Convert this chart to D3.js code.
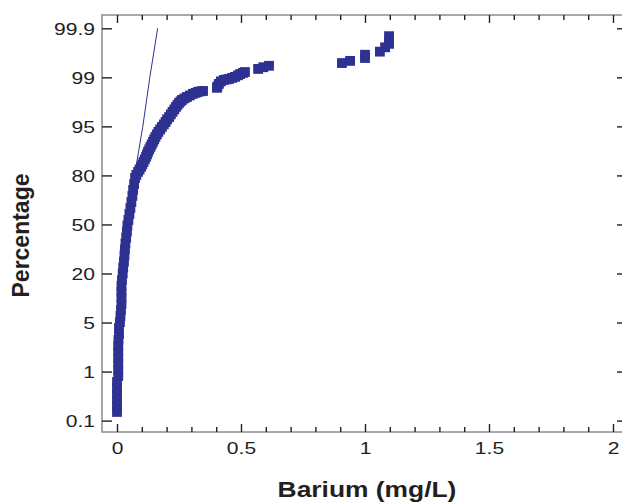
<!DOCTYPE html>
<html>
<head>
<meta charset="utf-8">
<script src="https://cdn.jsdelivr.net/npm/d3@7"></script>
<style>
  html, body { margin: 0; padding: 0; background: #fff; }
  svg { display: block; }
  text { font-family: "Liberation Sans", Arial, Helvetica, sans-serif; fill: #231f20; }
</style>
</head>
<body>
<svg id="chart" width="622" height="504"></svg>
<script>
// Barium concentrations (mg/L) and their cumulative percentages
const barium = [
  0.000, 0.000, 0.000, 0.000, 0.000, 0.000, 0.005, 0.005, 0.005, 0.005,
  0.005, 0.005, 0.006, 0.008, 0.008, 0.012, 0.014, 0.016, 0.018, 0.018,
  0.018, 0.018, 0.020, 0.023, 0.025, 0.028, 0.030, 0.032, 0.034, 0.037,
  0.040, 0.042, 0.046, 0.050, 0.054, 0.058, 0.062, 0.065, 0.069, 0.073,
  0.078, 0.085, 0.091, 0.097, 0.102, 0.107, 0.112, 0.117, 0.121, 0.125,
  0.130, 0.135, 0.140, 0.145, 0.150, 0.155, 0.161, 0.167, 0.174, 0.181,
  0.189, 0.196, 0.202, 0.210, 0.217, 0.224, 0.231, 0.238, 0.244, 0.250,
  0.256, 0.262, 0.272, 0.282, 0.294, 0.306, 0.317, 0.327, 0.337, 0.347,
  0.403, 0.405, 0.411, 0.419, 0.431, 0.442, 0.452, 0.464, 0.476, 0.488,
  0.497, 0.508, 0.516, 0.569, 0.590, 0.613,
  0.907, 0.940, 1.000, 1.000, 1.060, 1.081, 1.097, 1.097, 1.097
];
const percentage = [
  0.156, 0.21, 0.28, 0.37, 0.49, 0.64, 0.83, 1.06, 1.32, 1.63,
  2.00, 2.44, 2.96, 3.56, 4.27, 5.08, 6.2, 7.5, 8.98, 10.7,
  12.6, 14.8, 17.1, 20.0, 23.0, 26.2, 29.7, 33.4, 37.2, 41.1,
  45.2, 49.3, 53.1, 57.1, 61.1, 65.0, 68.8, 72.3, 75.6, 78.8,
  80.23, 81.6, 82.62, 83.7, 84.66, 85.6, 86.51, 87.4, 88.21, 89.0,
  89.75, 90.5, 91.14, 91.8, 92.38, 92.95, 93.49, 94.0, 94.47, 94.9,
  95.28, 95.6, 95.93, 96.2, 96.50, 96.76, 97.00, 97.23, 97.40, 97.56,
  97.68, 97.79, 97.90, 98.0, 98.10, 98.2, 98.26, 98.32, 98.35, 98.37,
  98.54, 98.61, 98.73, 98.84, 98.90, 98.92, 98.94, 98.98, 99.02, 99.08,
  99.13, 99.17, 99.20, 99.30, 99.35, 99.39,
  99.46, 99.51, 99.57, 99.63, 99.68, 99.74, 99.78, 99.82, 99.85
];

// Probability-axis ticks
const yTickPercent = [0.1, 1, 5, 20, 50, 80, 95, 99, 99.9];
const yTickLabels = ["0.1", "1", "5", "20", "50", "80", "95", "99", "99.9"];

// Value-axis ticks
const xMajorTicks = [0, 0.5, 1, 1.5, 2];
const xMinorTicks = [0.1, 0.2, 0.3, 0.4, 0.6, 0.7, 0.8, 0.9, 1.1, 1.2, 1.3, 1.4, 1.6, 1.7, 1.8, 1.9];
const xTickLabels = ["0", "0.5", "1", "1.5", "2"];

// Normal reference line (mean and standard deviation, mg/L)
const fitMean = 0.036;
const fitSd = 0.0414;
const fitPercent = [50, 80, 95, 99, 99.9];

// Inverse standard normal CDF (Acklam's rational approximation)
function probit(p) {
  const a = [-3.969683028665376e+01, 2.209460984245205e+02, -2.759285104469687e+02,
             1.383577518672690e+02, -3.066479806614716e+01, 2.506628277459239e+00];
  const b = [-5.447609879822406e+01, 1.615858368580409e+02, -1.556989798598866e+02,
             6.680131188771972e+01, -1.328068155288572e+01];
  const c = [-7.784894002430293e-03, -3.223964580411365e-01, -2.400758277161838e+00,
             -2.549732539343734e+00, 4.374664141464968e+00, 2.938163982698783e+00];
  const d = [7.784695709041462e-03, 3.224671290700398e-01, 2.445134137142996e+00,
             3.754408661907416e+00];
  const pl = 0.02425, ph = 1 - pl;
  let q, r;
  if (p < pl) {
    q = Math.sqrt(-2 * Math.log(p));
    return (((((c[0]*q+c[1])*q+c[2])*q+c[3])*q+c[4])*q+c[5]) / ((((d[0]*q+d[1])*q+d[2])*q+d[3])*q+1);
  }
  if (p <= ph) {
    q = p - 0.5; r = q * q;
    return (((((a[0]*r+a[1])*r+a[2])*r+a[3])*r+a[4])*r+a[5])*q / (((((b[0]*r+b[1])*r+b[2])*r+b[3])*r+b[4])*r+1);
  }
  q = Math.sqrt(-2 * Math.log(1 - p));
  return -(((((c[0]*q+c[1])*q+c[2])*q+c[3])*q+c[4])*q+c[5]) / ((((d[0]*q+d[1])*q+d[2])*q+d[3])*q+1);
}

// Layout
const W = 622, H = 504;
const plot = { left: 102, right: 627, top: 15, bottom: 432 };
const xRange = [117, 613];          // pixel span of 0 .. 2 mg/L
const yEnds = [420.6, 28.3];        // pixel span of 0.1 .. 99.9 %
const ink = "#231f20";
const frameColor = "#8c8c8c";
const markColor = "#2E3192";
const markSize = 9.8;
const labelStretch = 1.24;

const svg = d3.select("#chart");
svg.append("rect").attr("width", W).attr("height", H).attr("fill", "#fff");

const x = d3.scaleLinear().domain([0, 2]).range(xRange);

// Probability scale: tick percentages equally spaced, linear in z between them
const tickZ = yTickPercent.map(p => probit(p / 100));
const tickY = yTickPercent.map((_, i) => yEnds[0] + (yEnds[1] - yEnds[0]) * i / (yTickPercent.length - 1));
const yZ = d3.scaleLinear().domain(tickZ).range(tickY);
const y = p => yZ(probit(p / 100));

// Frame
svg.append("rect")
  .attr("x", plot.left).attr("y", plot.top)
  .attr("width", plot.right - plot.left).attr("height", plot.bottom - plot.top)
  .attr("fill", "none").attr("stroke", frameColor).attr("stroke-width", 1.5);

// Normal reference line
const fitLine = d3.line()
  .x(p => x(fitMean + fitSd * probit(p / 100)))
  .y(p => y(p));
svg.append("path")
  .datum(fitPercent)
  .attr("d", fitLine)
  .attr("fill", "none")
  .attr("stroke", markColor)
  .attr("stroke-width", 1);

// Observations
const pts = barium.map((v, i) => ({ v, p: percentage[i] }));
svg.append("g").selectAll("rect")
  .data(pts)
  .join("rect")
  .attr("x", d => x(d.v) - markSize / 2)
  .attr("y", d => y(d.p) - markSize / 2)
  .attr("width", markSize)
  .attr("height", markSize)
  .attr("fill", markColor);

// Axes (inward ticks on all sides)
function styleAxis(g) {
  g.select(".domain").remove();
  g.selectAll(".tick line").attr("stroke", ink).attr("stroke-width", 1.4);
}

// bottom
const xb = svg.append("g").attr("transform", `translate(0,${plot.bottom})`)
  .call(d3.axisBottom(x).tickValues(xMajorTicks).tickSize(-8)
        .tickFormat((d, i) => xTickLabels[i]))
  .call(styleAxis);
xb.selectAll(".tick text")
  .attr("y", 22).attr("dy", 0)
  .attr("font-size", 17)
  .attr("fill", ink)
  .attr("transform", `scale(${labelStretch},1)`);
svg.append("g").attr("transform", `translate(0,${plot.bottom})`)
  .call(d3.axisBottom(x).tickValues(xMinorTicks).tickSize(-5).tickFormat(""))
  .call(styleAxis);

// top
svg.append("g").attr("transform", `translate(0,${plot.top})`)
  .call(d3.axisTop(x).tickValues(xMajorTicks).tickSize(-8).tickFormat(""))
  .call(styleAxis);
svg.append("g").attr("transform", `translate(0,${plot.top})`)
  .call(d3.axisTop(x).tickValues(xMinorTicks).tickSize(-5).tickFormat(""))
  .call(styleAxis);

// left
const yl = svg.append("g").attr("transform", `translate(${plot.left},0)`)
  .call(d3.axisLeft(yZ).tickValues(tickZ).tickSize(-10)
        .tickFormat((d, i) => yTickLabels[i]))
  .call(styleAxis);
yl.selectAll(".tick text")
  .attr("x", -7 / labelStretch)
  .attr("dy", "0.35em")
  .attr("font-size", 17)
  .attr("fill", ink)
  .attr("text-anchor", "end")
  .attr("transform", `scale(${labelStretch},1)`);

// right
svg.append("g").attr("transform", `translate(${plot.right},0)`)
  .call(d3.axisRight(yZ).tickValues(tickZ).tickSize(-10).tickFormat(""))
  .call(styleAxis);

// Axis titles
svg.append("text")
  .attr("transform", `translate(367,497) scale(1.2,1)`)
  .attr("text-anchor", "middle")
  .attr("font-size", 22)
  .attr("font-weight", "bold")
  .text("Barium (mg/L)");

svg.append("text")
  .attr("transform", "translate(29,235.5) rotate(-90)")
  .attr("text-anchor", "middle")
  .attr("font-size", 23)
  .attr("font-weight", "bold")
  .text("Percentage");
</script>
</body>
</html>
